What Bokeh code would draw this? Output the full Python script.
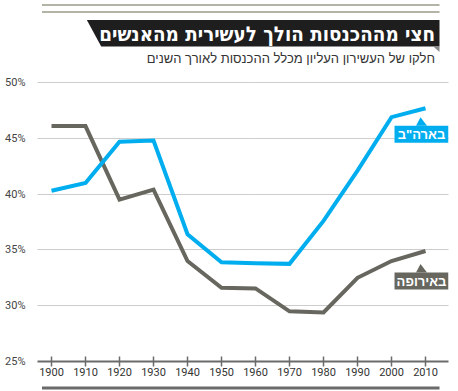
from bokeh.plotting import figure
from bokeh.models import Range1d, FixedTicker
from bokeh.layouts import column
from bokeh.core.properties import value
from bokeh.embed import file_html
from bokeh.resources import INLINE

# ---------------- data ----------------
years = [1900, 1910, 1920, 1930, 1940, 1950, 1960, 1970, 1980, 1990, 2000, 2010]
usa = [40.3, 41.0, 44.7, 44.8, 36.4, 33.9, 33.8, 33.75, 37.6, 42.1, 46.9, 47.7]
europe = [46.1, 46.1, 39.5, 40.4, 34.0, 31.6, 31.55, 29.5, 29.4, 32.5, 34.0, 34.9]
y_ticks = [25, 30, 35, 40, 45, 50]
y_tick_labels = ["25%", "30%", "35%", "40%", "45%", "50%"]
title_text = "חצי מההכנסות הולך לעשירית מהאנשים"
subtitle_text = "חלקו של העשירון העליון מכלל ההכנסות לאורך השנים"
usa_label = 'בארה"ב'
europe_label = "באירופה"

BLUE = "#00AEEF"
GREY = "#67675F"
HEB_FONT = "Liberation Sans"
TITLE_FONT = "DejaVu Sans Condensed"
NUM_FONT = "Roboto"

W = 458

# ---------------- header ----------------
H_HEAD = 70
head = figure(width=W, height=H_HEAD, x_range=Range1d(0, W), y_range=Range1d(H_HEAD, 0),
              output_backend="svg", toolbar_location=None, min_border=0,
              x_axis_type=None, y_axis_type=None)
head.outline_line_color = None
head.grid.visible = False
head.background_fill_color = "white"
head.border_fill_color = "white"

head.line([5, 448], [4.5, 4.5], line_color="#B4B4A6", line_width=2)
head.line([5, 448], [11.5, 11.5], line_color="#B4B4A6", line_width=2)
head.patch([55, 448, 448, 71], [19.5, 19.5, 46, 46], fill_color="#1E1E1E", line_color=None)
head.patch([441, 448, 448], [46, 46, 51.5], fill_color="#8A8A8A", line_color=None)
head.text(x=[443], y=[33.5], text=[title_text], text_color="white",
          text_font=value(TITLE_FONT), text_font_style="bold", text_font_size="20.4px",
          text_align="right", text_baseline="middle")
head.text(x=[443], y=[58], text=[subtitle_text], text_color="#333333",
          text_font=value(HEB_FONT), text_font_size="13px",
          text_align="right", text_baseline="middle")

# ---------------- main chart ----------------
H_MAIN = 310
X0, X1 = 1895.88, 2016.76
Y0, Y1 = 25, 50.9
ML, MR, MT, MB = 37, 10, 2, 19
frame_w = W - ML - MR
frame_h = H_MAIN - MT - MB
px_x = frame_w / (X1 - X0)
px_y = frame_h / (Y1 - Y0)

p = figure(width=W, height=H_MAIN, x_range=Range1d(X0, X1), y_range=Range1d(Y0, Y1),
           output_backend="svg", toolbar_location=None,
           min_border_left=ML, min_border_right=MR, min_border_top=MT, min_border_bottom=MB)
p.outline_line_color = None
p.background_fill_color = "white"
p.border_fill_color = "white"

p.xgrid.visible = False
p.ygrid.ticker = FixedTicker(ticks=y_ticks)
p.ygrid.grid_line_color = "#9A9A9A"
p.ygrid.grid_line_dash = "1 1"
p.ygrid.grid_line_width = 1

p.yaxis.ticker = FixedTicker(ticks=y_ticks)
p.yaxis.major_label_overrides = {t: l for t, l in zip(y_ticks, y_tick_labels)}
p.yaxis.axis_line_color = None
p.yaxis.major_tick_line_color = None
p.yaxis.minor_tick_line_color = None
p.yaxis.major_label_standoff = 6
p.yaxis.major_label_text_font = NUM_FONT
p.yaxis.major_label_text_font_size = "11px"
p.yaxis.major_label_text_color = "#444444"

p.xaxis.ticker = FixedTicker(ticks=years)
p.xaxis.axis_line_color = "#6B6B6B"
p.xaxis.axis_line_width = 2
p.xaxis.major_tick_in = 5
p.xaxis.major_tick_out = 5
p.xaxis.major_tick_line_color = "#6B6B6B"
p.xaxis.major_tick_line_width = 1.5
p.xaxis.minor_tick_line_color = None
p.xaxis.major_label_standoff = 1
p.xaxis.major_label_text_font = NUM_FONT
p.xaxis.major_label_text_font_size = "11px"
p.xaxis.major_label_text_color = "#333333"

p.line(years, europe, line_color=GREY, line_width=4, line_join="miter")
p.line(years, usa, line_color=BLUE, line_width=4, line_join="miter")


def callout(series, text, color, apex_px, box_px):
    x0, y0 = years[-1], series[-1]
    cx = x0 - 4 / px_x
    bw, bh = 54, 17
    by = y0 - box_px / px_y
    top = by + (bh / 2) / px_y
    ay = y0 - apex_px / px_y
    half = 5.5 / px_x
    p.patch([cx - half, cx + half, cx - 1 / px_x], [top, top, ay], fill_color=color, line_color=None)
    p.rect(x=[cx], y=[by], width=bw, height=bh, width_units="screen", height_units="screen",
           fill_color=color, line_color=None)
    p.text(x=[cx], y=[by], text=[text], text_color="white", text_font=value(HEB_FONT),
           text_font_style="bold", text_font_size="13px", text_align="center",
           text_baseline="middle")


callout(usa, usa_label, BLUE, 9, 26)
callout(europe, europe_label, GREY, 13, 30)

# ---------------- footer rule ----------------
H_FOOT = 11
foot = figure(width=W, height=H_FOOT, x_range=Range1d(0, W), y_range=Range1d(H_FOOT, 0),
              output_backend="svg", toolbar_location=None, min_border=0,
              x_axis_type=None, y_axis_type=None)
foot.outline_line_color = None
foot.grid.visible = False
foot.background_fill_color = "white"
foot.border_fill_color = "white"
foot.quad(left=[5], right=[448], top=[5], bottom=[8], fill_color="#6B6B6B", line_color=None)

layout = column(head, p, foot, spacing=0)
open("out.html", "w").write(file_html(layout, INLINE))
